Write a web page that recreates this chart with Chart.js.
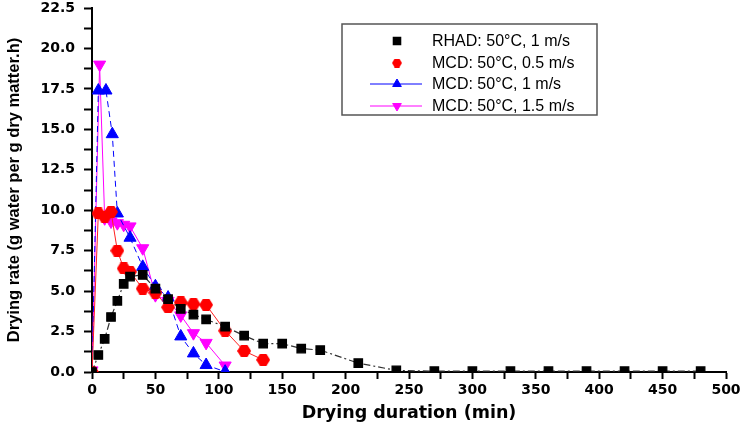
<!DOCTYPE html>
<html lang="en">
<head>
    <meta charset="UTF-8">
    <title>Drying rate</title>
    <script src="https://cdn.jsdelivr.net/npm/chart.js"></script>
    <style>
        html, body { margin: 0; padding: 0; background: #fff; }
        #wrap { width: 742px; height: 430px; }
    </style>
</head>
<body>
    <div id="wrap"><canvas id="rateChart" width="742" height="430"></canvas></div>
    <script>
        // Drying duration (min) and drying rate values
        const rhadTime = [0, 5, 10, 15, 20, 25, 30, 40, 50, 60, 70, 80, 90, 105, 120, 135, 150, 165, 180, 210, 240, 270, 300, 330, 360, 390, 420, 450, 480];
        const rhadRate = [0, 1.05, 2.05, 3.4, 4.4, 5.45, 5.9, 6.0, 5.15, 4.5, 3.9, 3.55, 3.25, 2.8, 2.25, 1.75, 1.75, 1.45, 1.35, 0.55, 0.1, 0.05, 0.05, 0.05, 0.05, 0.05, 0.05, 0.05, 0.05];

        const mcd05Time = [0, 5, 10, 15, 20, 25, 30, 40, 50, 60, 70, 80, 90, 105, 120, 135];
        const mcd05Rate = [0, 9.8, 9.6, 9.9, 7.5, 6.4, 6.2, 5.15, 4.9, 4.0, 4.3, 4.2, 4.15, 2.55, 1.3, 0.75];

        const mcd1Time = [0, 5, 11, 16, 20, 30, 40, 50, 60, 70, 80, 90, 105];
        const mcd1Rate = [0, 17.4, 17.4, 14.7, 9.8, 8.3, 6.5, 5.3, 4.6, 2.2, 1.15, 0.43, 0.02];

        const mcd15Time = [0, 6, 10, 15, 20, 25, 30, 40, 50, 60, 70, 80, 90, 105];
        const mcd15Rate = [0.1, 19.0, 9.5, 9.3, 9.2, 9.1, 9.0, 7.65, 4.75, 4.4, 3.5, 2.4, 1.8, 0.4];

        const seriesNames = ['RHAD: 50°C, 1 m/s', 'MCD: 50°C, 0.5 m/s', 'MCD: 50°C, 1 m/s', 'MCD: 50°C, 1.5 m/s'];

        function toPoints(xs, ys) {
            return xs.map((x, i) => ({ x: x, y: ys[i] }));
        }

        // hexagon marker used for the 0.5 m/s series
        function makeHex(w, h, color) {
            const c = document.createElement('canvas');
            c.width = w; c.height = h;
            const g = c.getContext('2d');
            g.fillStyle = color;
            g.beginPath();
            g.moveTo(0, h / 2);
            g.lineTo(w * 0.27, 0);
            g.lineTo(w * 0.73, 0);
            g.lineTo(w, h / 2);
            g.lineTo(w * 0.73, h);
            g.lineTo(w * 0.27, h);
            g.closePath();
            g.fill();
            return c;
        }
        const hexBig = makeHex(14, 12, '#ff0000');
        const hexSmall = makeHex(10, 9, '#ff0000');

        // Boxed legend inside the plot, like the original figure
        const boxLegend = {
            id: 'boxLegend',
            afterDraw(chart) {
                const ctx = chart.ctx;
                ctx.save();
                ctx.strokeStyle = '#555';
                ctx.lineWidth = 1.5;
                ctx.strokeRect(342, 24, 255, 91);
                ctx.font = '16px "Liberation Sans", Arial, sans-serif';
                ctx.textBaseline = 'middle';
                const rows = [41, 63, 84, 106];
                chart.data.datasets.forEach((ds, i) => {
                    const y = rows[i];
                    if (ds.legendLine) {
                        ctx.strokeStyle = ds.borderColor;
                        ctx.lineWidth = 1;
                        ctx.beginPath();
                        ctx.moveTo(370, y);
                        ctx.lineTo(422, y);
                        ctx.stroke();
                    }
                    ctx.fillStyle = ds.backgroundColor;
                    ctx.strokeStyle = ds.backgroundColor;
                    Chart.helpers.drawPoint(ctx, {
                        pointStyle: ds.legendStyle || ds.pointStyle,
                        radius: 5,
                        rotation: ds.rotation || 0,
                        borderWidth: 1
                    }, 397, y);
                    ctx.fillStyle = '#000';
                    ctx.fillText(ds.label, 432, y + 1);
                });
                ctx.restore();
            }
        };

        const tickFont = { family: '"DejaVu Sans", Verdana, sans-serif', size: 14, weight: 'bold' };

        new Chart(document.getElementById('rateChart'), {
            type: 'scatter',
            data: {
                datasets: [{
                    label: seriesNames[0],
                    data: toPoints(rhadTime, rhadRate),
                    showLine: true,
                    borderColor: '#333',
                    backgroundColor: '#000',
                    borderWidth: 1.2,
                    borderDash: [7, 3, 2, 3],
                    pointStyle: 'rect',
                    pointRadius: 6,
                    pointBorderColor: '#000'
                }, {
                    label: seriesNames[1],
                    data: toPoints(mcd05Time, mcd05Rate),
                    showLine: true,
                    borderColor: '#ff2020',
                    backgroundColor: '#ff0000',
                    borderWidth: 1,
                    pointStyle: hexBig,
                    legendStyle: hexSmall,
                    pointRadius: 6,
                    pointBorderColor: '#ff0000'
                }, {
                    label: seriesNames[2],
                    data: toPoints(mcd1Time, mcd1Rate),
                    showLine: true,
                    legendLine: true,
                    borderColor: '#0000ff',
                    backgroundColor: '#0000ff',
                    borderWidth: 1,
                    borderDash: [6, 4],
                    pointStyle: 'triangle',
                    pointRadius: 7,
                    pointBorderColor: '#0000ff'
                }, {
                    label: seriesNames[3],
                    data: toPoints(mcd15Time, mcd15Rate),
                    showLine: true,
                    legendLine: true,
                    borderColor: '#ff00ff',
                    backgroundColor: '#ff00ff',
                    borderWidth: 1,
                    pointStyle: 'triangle',
                    rotation: 180,
                    pointRotation: 180,
                    pointRadius: 7,
                    pointBorderColor: '#ff00ff'
                }]
            },
            options: {
                responsive: false,
                animation: false,
                layout: { padding: { top: 0, right: 16, left: 0, bottom: 0 } },
                plugins: {
                    legend: { display: false },
                    tooltip: { enabled: false }
                },
                scales: {
                    x: {
                        type: 'linear',
                        min: 0,
                        max: 500,
                        afterFit: (scale) => { scale.height = 58; scale.paddingRight = 0; },
                        border: { color: '#000', width: 2 },
                        grid: { drawOnChartArea: false, tickLength: 7, tickColor: '#000', tickWidth: 2 },
                        ticks: {
                            stepSize: 25,
                            color: '#000',
                            font: tickFont,
                            padding: 3,
                            maxRotation: 0,
                            autoSkip: false,
                            callback: (v) => (v % 50 === 0 ? String(v) : '')
                        },
                        title: {
                            display: true,
                            text: 'Drying duration (min)',
                            color: '#000',
                            font: { family: '"DejaVu Sans", Verdana, sans-serif', size: 17.5, weight: 'bold' },
                            padding: { top: 4, bottom: 6 }
                        }
                    },
                    y: {
                        min: 0,
                        max: 22.5,
                        afterFit: (scale) => { scale.width = 92; scale.paddingTop = 7; scale.paddingBottom = 0; },
                        border: { color: '#000', width: 2 },
                        grid: { drawOnChartArea: false, tickLength: 8, tickColor: '#000', tickWidth: 2 },
                        ticks: {
                            stepSize: 1.25,
                            color: '#000',
                            font: tickFont,
                            padding: 9,
                            autoSkip: false,
                            callback: (v) => (Math.abs(v / 2.5 - Math.round(v / 2.5)) < 1e-6 ? v.toFixed(1) : '')
                        },
                        title: {
                            display: true,
                            text: 'Drying rate (g water per g dry matter.h)',
                            color: '#000',
                            font: { family: '"Liberation Sans", Arial, sans-serif', size: 16.5, weight: 'bold' },
                            padding: { top: 5, bottom: 4 }
                        }
                    }
                }
            },
            plugins: [boxLegend]
        });
    </script>
</body>
</html>
